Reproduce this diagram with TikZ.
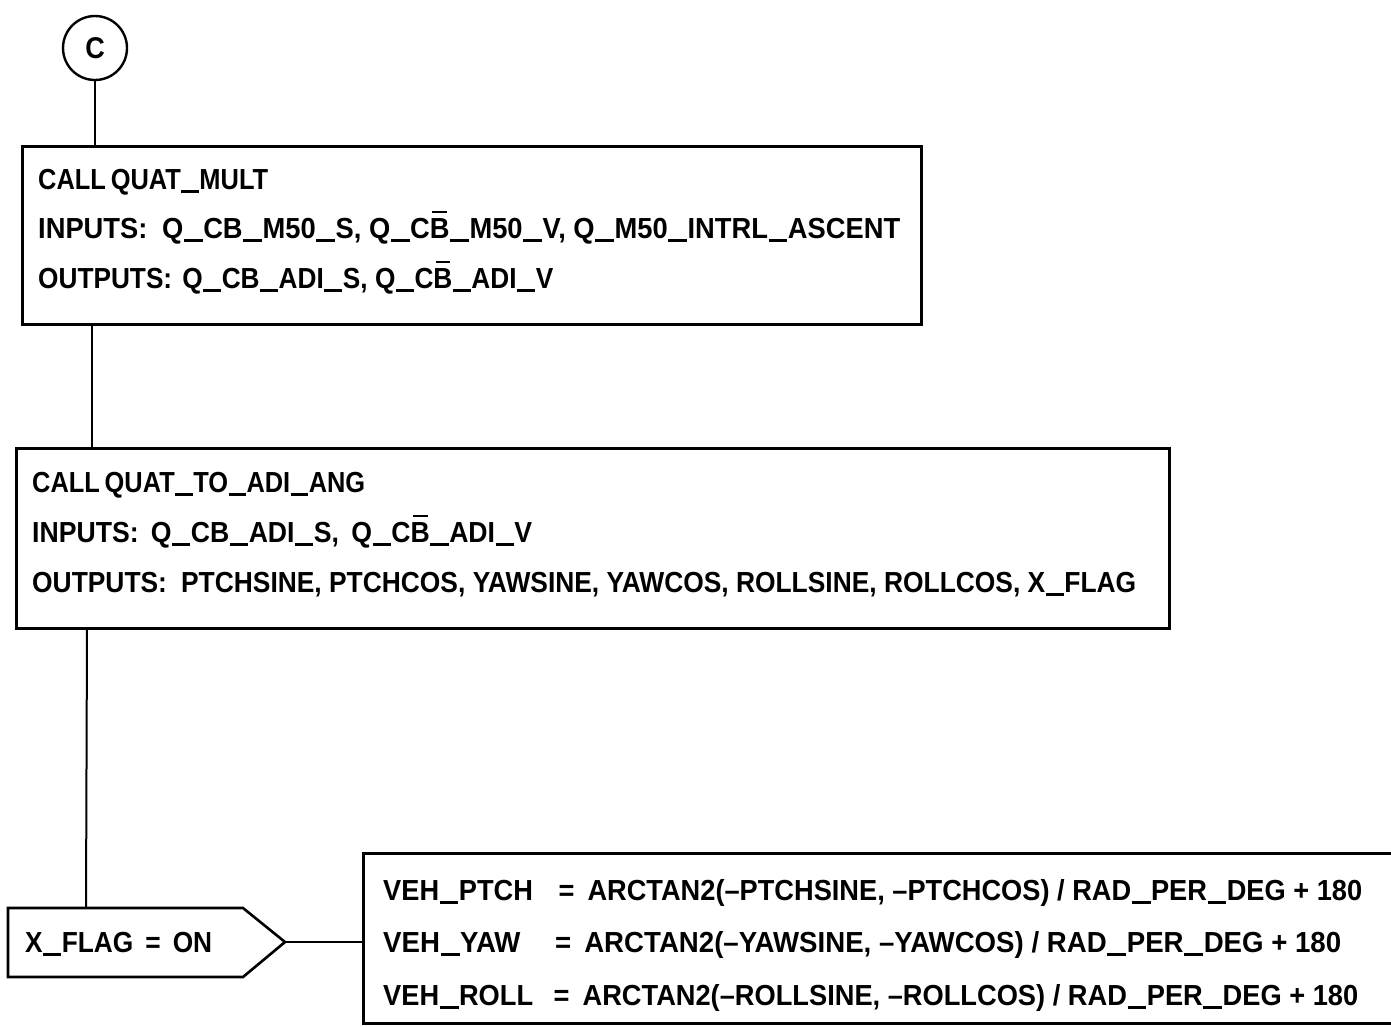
\documentclass[tikz,border=0pt]{standalone}
\usepackage{fontspec}
\usepackage{graphicx}
\setmainfont{Liberation Sans}[FakeStretch=0.9]
\newcommand\bB{\ooalign{B\cr\hidewidth\raisebox{0.86em}{\rule{0.5em}{0.08em}}\hidewidth\cr}}
\newcommand\us{\kern0.5pt\rule[-4pt]{18pt}{3pt}\kern0.5pt}
\newcommand\fitw[2]{\resizebox{#1}{\height}{#2}}
\begin{document}
\begin{tikzpicture}[x=1pt,y=-1pt,
  box/.style={draw, line width=2.6pt, rectangle, inner sep=0pt, anchor=north west},
  conn/.style={line width=2pt},
  txt/.style={anchor=base west, inner sep=0pt, font=\fontsize{29}{32}\selectfont\bfseries},
  circ/.style={circle, draw, line width=2.4pt, minimum size=64pt, inner sep=0pt, font=\fontsize{30}{34}\selectfont\bfseries}]
\useasboundingbox (0,0) rectangle (1391,1026);
% connector circle
\node[circ] (c) at (95,48) {C};
% boxes
\node[box, minimum width=899pt, minimum height=178pt] (b1) at (21,145) {};
\node[box, minimum width=1153pt, minimum height=180pt] (b2) at (15,447) {};
\node[box, minimum width=1060pt, minimum height=170pt] (b3) at (362,852) {};
% texts box 1
\node[txt] (t11) at (38,189) {\fitw{230pt}{CALL\hspace{5pt}QUAT\us MULT}};
\node[txt] (t12) at (38,238) {\fitw{862pt}{INPUTS:\hspace{14pt}Q\us CB\us M50\us S, Q\us C\bB\us M50\us V, Q\us M50\us INTRL\us ASCENT}};
\node[txt] (t13) at (38,288) {\fitw{515pt}{OUTPUTS:\hspace{10pt}Q\us CB\us ADI\us S, Q\us C\bB\us ADI\us V}};
% texts box 2
\node[txt] (t21) at (32,492) {\fitw{333pt}{CALL\hspace{5pt}QUAT\us TO\us ADI\us ANG}};
\node[txt] (t22) at (32,542) {\fitw{500pt}{INPUTS:\hspace{12pt}Q\us CB\us ADI\us S,\hspace{12pt}Q\us C\bB\us ADI\us V}};
\node[txt] (t23) at (32,592) {\fitw{1104pt}{OUTPUTS:\hspace{14pt}PTCHSINE, PTCHCOS, YAWSINE, YAWCOS, ROLLSINE, ROLLCOS, X\us FLAG}};
% flag shape
\coordinate (fnw) at (8,908);
\coordinate (fne) at (243,908);
\coordinate (ftip) at (285,942);
\coordinate (fse) at (243,977);
\coordinate (fsw) at (8,977);
\draw[line width=2.6pt, line join=miter] (fnw) -- (fne) -- (ftip) -- (fse) -- (fsw) -- cycle;
\node[txt] (ft) at (25,952) {\fitw{187pt}{X\us FLAG\hspace{12pt}=\hspace{12pt}ON}};
% texts box 3
\node[txt] (t31) at (383,900) {\fitw{979pt}{\makebox[161pt][l]{VEH\us PTCH}\makebox[30pt]{=}\hspace{5pt}ARCTAN2(--PTCHSINE, --PTCHCOS) / RAD\us PER\us DEG + 180}};
\node[txt] (t32) at (383,952) {\fitw{958pt}{\makebox[155pt][l]{VEH\us YAW}\makebox[30pt]{=}\hspace{5pt}ARCTAN2(--YAWSINE, --YAWCOS) / RAD\us PER\us DEG + 180}};
\node[txt] (t33) at (383,1005) {\fitw{975pt}{\makebox[156pt][l]{VEH\us ROLL}\makebox[30pt]{=}\hspace{5pt}ARCTAN2(--ROLLSINE, --ROLLCOS) / RAD\us PER\us DEG + 180}};
% connectors
\draw[conn] (c.south) -- (c.south |- b1.north);
\draw[conn] ([xshift=71pt]b1.south west) -- ([xshift=77pt]b2.north west);
\draw[conn] ([xshift=72pt]b2.south west) -- (86,908);
\draw[conn] (ftip) -- (ftip -| b3.west);
\end{tikzpicture}
\end{document}
